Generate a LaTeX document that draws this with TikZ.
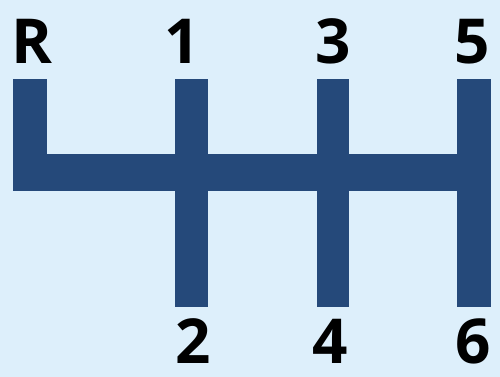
\documentclass[tikz,border=0pt]{standalone}
\usepackage{fontspec}
\setmainfont{Open Sans}
\definecolor{bgblue}{HTML}{DDEFFB}
\definecolor{barblue}{HTML}{25497A}
\begin{document}
\begin{tikzpicture}[x=1pt,y=-1pt,
  bar/.style={fill=barblue,draw=none},
  gear/.style={anchor=base,inner sep=0pt,text=black,font=\fontsize{62}{62}\selectfont\bfseries}]
\fill[bgblue] (0,0) rectangle (500,377);
\useasboundingbox (0,0) rectangle (500,377);
% horizontal bar
\fill[bar] (13,154) rectangle (491,191);
% vertical bars
\fill[bar] (13,79) rectangle (47,191);
\fill[bar] (175,79) rectangle (208,307);
\fill[bar] (317,79) rectangle (349,307);
\fill[bar] (457,79) rectangle (491,307);
% labels
\node[gear] (r) at (31.5,64) {R};
\node[gear] (g1) at (182,64) {1};
\node[gear] (g3) at (333.5,64) {3};
\node[gear] (g5) at (472.5,64) {5};
\node[gear] (g2) at (193.5,363) {2};
\node[gear] (g4) at (330,363) {4};
\node[gear] (g6) at (473.5,363) {6};
\end{tikzpicture}
\end{document}
